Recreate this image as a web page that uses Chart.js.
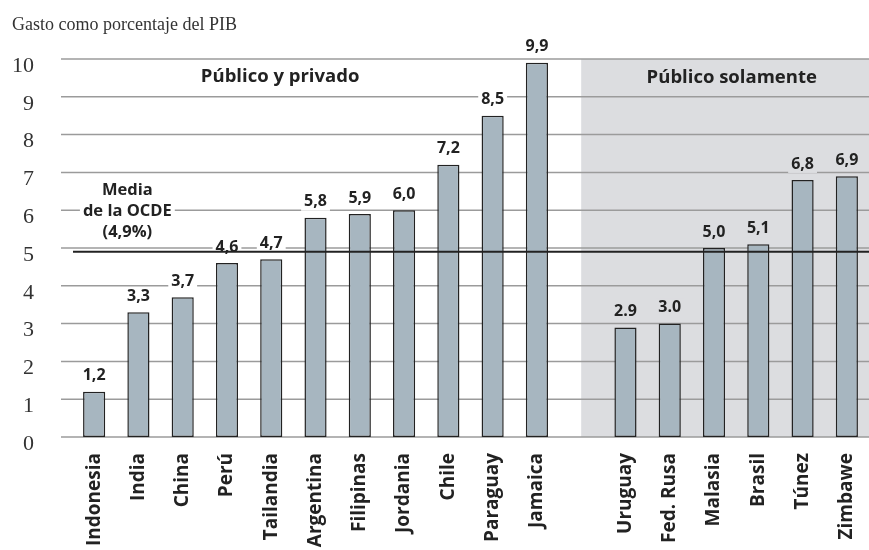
<!DOCTYPE html>
<html>
<head>
<meta charset="utf-8">
<script src="https://cdn.jsdelivr.net/npm/chart.js@4"></script>
<style>
  body { margin: 0; background: #fff; }
  #grafico { display: block; }
</style>
</head>
<body>
<canvas id="grafico" width="869" height="550"></canvas>
<script>
// datos
var paises = ["Indonesia", "India", "China", "Perú", "Tailandia", "Argentina", "Filipinas",
  "Jordania", "Chile", "Paraguay", "Jamaica", "", "Uruguay", "Fed. Rusa", "Malasia",
  "Brasil", "Túnez", "Zimbawe"];
var gasto = [1.2, 3.3, 3.7, 4.6, 4.7, 5.8, 5.9, 6.0, 7.2, 8.5, 9.9, null, 2.9, 3.0, 5.0, 5.1, 6.8, 6.9];
var etiquetas = ["1,2", "3,3", "3,7", "4,6", "4,7", "5,8", "5,9", "6,0", "7,2", "8,5", "9,9", "",
  "2.9", "3.0", "5,0", "5,1", "6,8", "6,9"];
var ticksY = [0, 1, 2, 3, 4, 5, 6, 7, 8, 9, 10];
var mediaOCDE = 4.9;
var inicioPublico = 11; // índice del hueco entre los dos grupos

var SANS = "'Open Sans', Lato, sans-serif";
var SERIF = "'Liberation Serif', serif";

function xEn(chart, f) {
  var x = chart.scales.x;
  var i = Math.floor(f);
  var a = x.getPixelForValue(i);
  var b = x.getPixelForValue(i + 1);
  return a + (b - a) * (f - i);
}

function textoConFondo(ctx, txt, x, y, fondo) {
  var w = ctx.measureText(txt).width;
  ctx.fillStyle = fondo;
  ctx.fillRect(x - w / 2 - 3, y - 9, w + 6, 18);
  ctx.fillStyle = "#222";
  ctx.fillText(txt, x, y);
}

var dibujos = {
  id: "dibujos",
  beforeDatasetsDraw: function (chart) {
    var ctx = chart.ctx;
    var area = chart.chartArea;
    var y = chart.scales.y;
    ctx.save();
    // fondo gris "Público solamente"
    var xg = xEn(chart, inicioPublico);
    ctx.fillStyle = "#dcdde0";
    ctx.fillRect(xg, y.getPixelForValue(10), area.right - xg, y.getPixelForValue(0) - y.getPixelForValue(10));
    // líneas de la cuadrícula
    ctx.strokeStyle = "#9b9b9b";
    ctx.lineWidth = 1.5;
    ticksY.forEach(function (v) {
      var py = y.getPixelForValue(v);
      ctx.beginPath();
      ctx.moveTo(61, py);
      ctx.lineTo(area.right, py);
      ctx.stroke();
    });
    // valores sobre las barras
    ctx.font = "bold 16px " + SANS;
    ctx.textAlign = "center";
    ctx.textBaseline = "middle";
    var meta = chart.getDatasetMeta(0);
    meta.data.forEach(function (bar, i) {
      if (gasto[i] == null) return;
      var fondo = i > inicioPublico ? "#dcdde0" : "#fff";
      textoConFondo(ctx, etiquetas[i], bar.x, bar.y - 16, fondo);
    });
    // texto de la media
    var xm = xEn(chart, 0.75);
    var ym = y.getPixelForValue(mediaOCDE);
    ctx.font = "bold 16.5px " + SANS;
    textoConFondo(ctx, "Media", xm, ym - 61, "#fff");
    textoConFondo(ctx, "de la OCDE", xm, ym - 40, "#fff");
    textoConFondo(ctx, "(4,9%)", xm, ym - 19, "#fff");
    // títulos de grupo
    ctx.font = "bold 18.5px " + SANS;
    ctx.fillStyle = "#222";
    ctx.fillText("Público y privado", xEn(chart, 4.2), area.top + 18);
    ctx.fillText("Público solamente", xEn(chart, 14.4), area.top + 19);
    ctx.restore();
  },
  afterDatasetsDraw: function (chart) {
    var ctx = chart.ctx;
    var y = chart.scales.y;
    var py = y.getPixelForValue(mediaOCDE);
    ctx.save();
    ctx.strokeStyle = "#222";
    ctx.lineWidth = 2;
    ctx.beginPath();
    ctx.moveTo(xEn(chart, -0.5) + 1, py);
    ctx.lineTo(chart.chartArea.right, py);
    ctx.stroke();
    // título del eje
    ctx.font = "18px " + SERIF;
    ctx.fillStyle = "#333";
    ctx.textAlign = "left";
    ctx.textBaseline = "middle";
    ctx.fillText("Gasto como porcentaje del PIB", 12, 25);
    ctx.restore();
  }
};

document.addEventListener("DOMContentLoaded", function () {
  var ctx = document.getElementById("grafico").getContext("2d");
  new Chart(ctx, {
    type: "bar",
    data: {
      labels: paises,
      datasets: [
        {
          data: gasto,
          backgroundColor: "#a7b6c0",
          borderColor: "#222",
          borderWidth: 1.5,
          borderSkipped: false,
          barPercentage: 0.5,
          categoryPercentage: 1,
        },
      ],
    },
    options: {
      responsive: false,
      animation: false,
      layout: { padding: { top: 59, right: 0, bottom: 0, left: 0 } },
      scales: {
        x: {
          grid: { display: false, drawTicks: false },
          border: { display: false },
          ticks: {
            minRotation: 90,
            maxRotation: 90,
            autoSkip: false,
            padding: 16,
            color: "#222",
            font: { family: SANS, size: 19, weight: "bold" },
          },
          afterFit: function (scale) {
            scale.height = 113;
            scale.paddingLeft = 0;
            scale.paddingRight = 0;
          },
        },
        y: {
          min: 0,
          max: 10,
          grid: { display: false, drawTicks: false },
          border: { display: false },
          ticks: {
            stepSize: 1,
            padding: 38,
            labelOffset: 7,
            color: "#333",
            font: { family: SERIF, size: 22 },
          },
          afterFit: function (scale) {
            scale.width = 72;
          },
        },
      },
      plugins: {
        legend: { display: false },
        tooltip: { enabled: false },
      },
    },
    plugins: [dibujos],
  });
});
</script>
</body>
</html>
